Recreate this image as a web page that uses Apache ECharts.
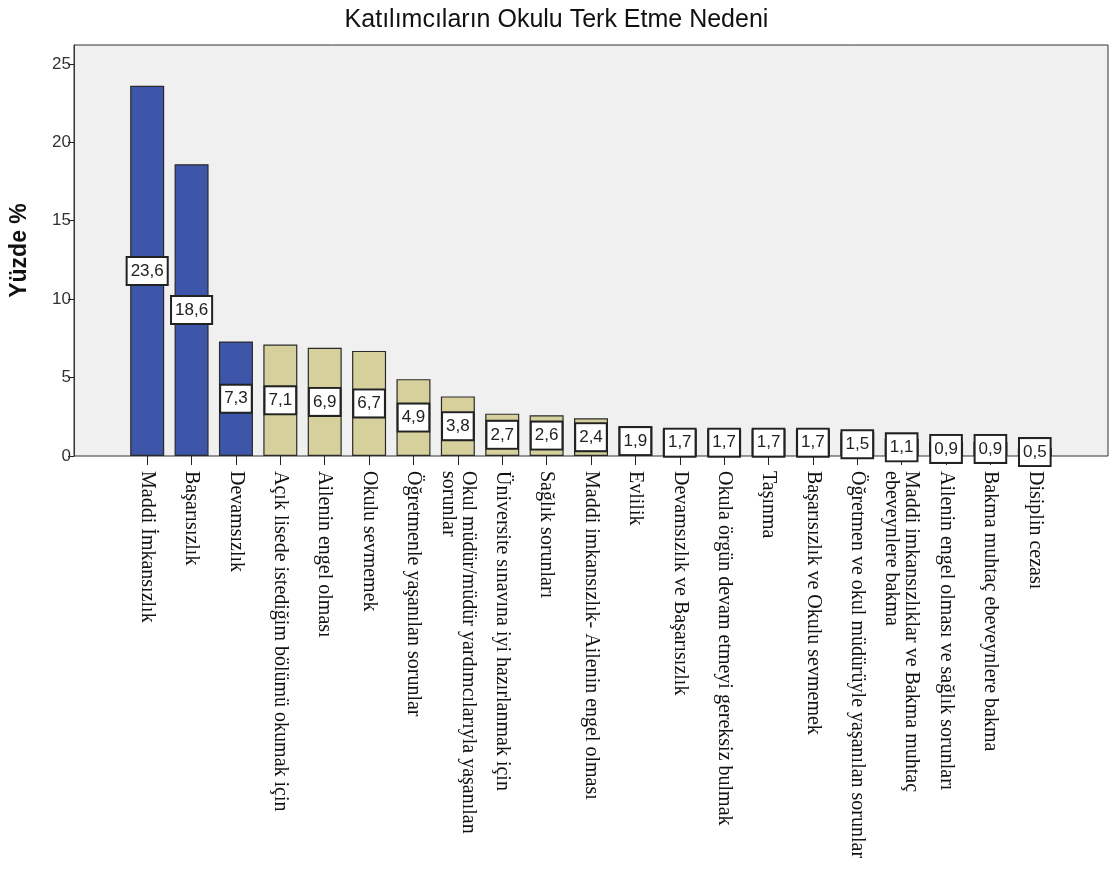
<!DOCTYPE html>
<html>
<head>
<meta charset="utf-8">
<title>Katılımcıların Okulu Terk Etme Nedeni</title>
<script src="https://cdn.jsdelivr.net/npm/echarts@6.0.0/dist/echarts.min.js"></script>
<style>
  html, body { margin: 0; padding: 0; background: #fff; }
  #chart { width: 1113px; height: 878px; }
</style>
</head>
<body>
<div id="chart"></div>
<script>
// Data
const categories = [
  'Maddi İmkansızlık',
  'Başarısızlık',
  'Devamsızlık',
  'Açık lisede istediğim bölümü okumak için',
  'Ailenin engel olması',
  'Okulu sevmemek',
  'Öğretmenle yaşanılan sorunlar',
  'Okul müdür/müdür yardımcılarıyla yaşanılan\nsorunlar',
  'Üniversite sınavına iyi hazırlanmak için',
  'Sağlık sorunları',
  'Maddi imkansızlık- Ailenin engel olması',
  'Evlilik',
  'Devamsızlık ve Başarısızlık',
  'Okula örgün devam etmeyi gereksiz bulmak',
  'Taşınma',
  'Başarısızlık ve Okulu sevmemek',
  'Öğretmen ve okul müdürüyle yaşanılan sorunlar',
  'Maddi imkansızlıklar ve Bakma muhtaç\nebeveynlere bakma',
  'Ailenin engel olması ve sağlık sorunları',
  'Bakma muhtaç ebeveynlere bakma',
  'Disiplin cezası'
];
const percents = [23.6, 18.6, 7.3, 7.1, 6.9, 6.7, 4.9, 3.8, 2.7, 2.6, 2.4, 1.9, 1.7, 1.7, 1.7, 1.7, 1.5, 1.1, 0.9, 0.9, 0.5];
// which group each bar belongs to (main reasons are drawn blue)
const groups = ['main', 'main', 'main', 'other', 'other', 'other', 'other', 'other', 'other', 'other',
  'other', 'other', 'other', 'other', 'other', 'other', 'other', 'other', 'other', 'other', 'other'];
const yTicks = [0, 5, 10, 15, 20, 25];
const yMax = 26.2;

const groupColors = { main: '#3d56a9', other: '#d5d09c' };

const chart = echarts.init(document.getElementById('chart'));

chart.setOption({
  animation: false,
  backgroundColor: '#ffffff',
  title: {
    text: 'Katılımcıların Okulu Terk Etme Nedeni',
    left: 'center',
    top: 3,
    textStyle: {
      fontFamily: 'Liberation Sans, Arial, sans-serif',
      fontSize: 25,
      fontWeight: 'normal',
      color: '#111'
    }
  },
  grid: [
    // plot frame
    {
      left: 73, right: 5, top: 45, bottom: 422,
      show: true,
      backgroundColor: '#f0f0f0',
      borderColor: '#333',
      borderWidth: 1
    },
    // bar area
    { left: 125, right: 56, top: 45, bottom: 422 }
  ],
  xAxis: [
    { gridIndex: 0, type: 'value', min: 0, max: 1, show: false },
    {
      gridIndex: 1,
      type: 'category',
      data: categories,
      axisLine: { show: false },
      axisTick: {
        show: true,
        alignWithLabel: true,
        length: 9,
        lineStyle: { color: '#222', width: 1 }
      },
      axisLabel: {
        interval: 0,
        rotate: -90,
        margin: 15,
        fontFamily: 'Liberation Serif, Times New Roman, serif',
        fontSize: 20,
        lineHeight: 20,
        color: '#111'
      }
    }
  ],
  yAxis: [
    {
      gridIndex: 0,
      type: 'value',
      min: 0,
      max: yMax,
      name: 'Yüzde %',
      nameLocation: 'middle',
      nameRotate: 90,
      nameGap: 43,
      nameTextStyle: {
        fontFamily: 'Liberation Sans, Arial, sans-serif',
        fontSize: 23,
        fontWeight: 'bold',
        color: '#111'
      },
      axisLine: { show: true, lineStyle: { color: '#333' } },
      axisTick: {
        show: true,
        length: 6,
        customValues: yTicks,
        lineStyle: { color: '#222' }
      },
      axisLabel: {
        customValues: yTicks,
        margin: 3,
        fontFamily: 'Liberation Sans, Arial, sans-serif',
        fontSize: 17,
        color: '#333'
      },
      splitLine: { show: false }
    },
    { gridIndex: 1, type: 'value', min: 0, max: yMax, show: false }
  ],
  series: [{
    type: 'bar',
    xAxisIndex: 1,
    yAxisIndex: 1,
    barWidth: 34,
    data: percents.map((v, i) => ({
      value: v,
      itemStyle: { color: groupColors[groups[i]] }
    })),
    itemStyle: { borderColor: '#2a2a2a', borderWidth: 1.2 },
    label: {
      show: true,
      position: 'inside',
      formatter: p => p.value.toFixed(1).replace('.', ','),
      fontFamily: 'Liberation Sans, Arial, sans-serif',
      fontSize: 17,
      color: '#222',
      backgroundColor: '#ffffff',
      borderColor: '#222',
      borderWidth: 2,
      padding: [5, 3, 4, 3]
    }
  }]
});
</script>
</body>
</html>
